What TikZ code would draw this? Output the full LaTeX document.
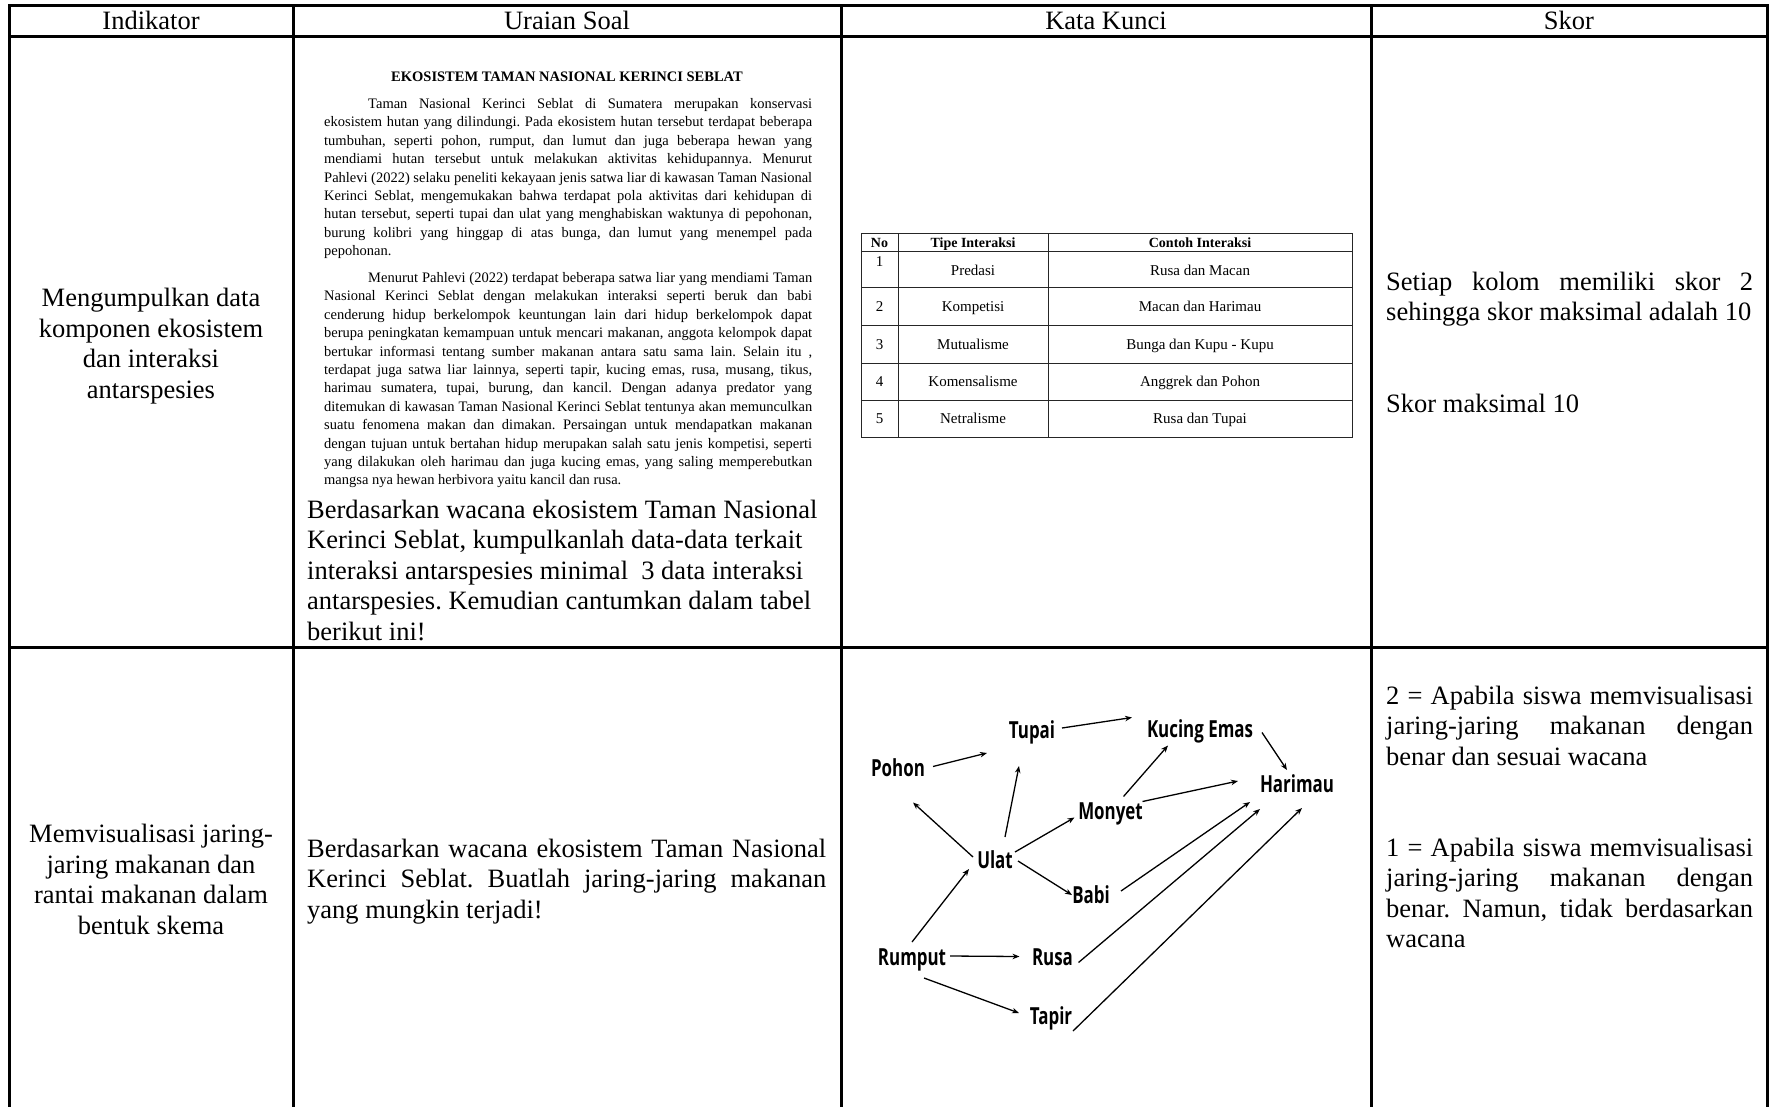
\documentclass[tikz,border=0pt]{standalone}
\usepackage{fontspec}
\setmainfont{Liberation Serif}
\newfontfamily\webfont[FakeStretch=0.72]{Open Sans}
\usetikzlibrary{arrows.meta,calc}
\frenchspacing

\tikzset{
  rule/.style={line width=3pt, line cap=rect},
  thinrule/.style={line width=0.9pt, black!85},
  cell/.style={inner sep=0pt, font=\fontsize{26.5}{30.5}\selectfont},
  small/.style={inner sep=0pt, font=\fontsize{14.5}{18.4}\selectfont},
  tabtext/.style={inner sep=0pt, font=\fontsize{15}{17}\selectfont},
  web/.style={inner sep=0pt, text height=17pt, text depth=0pt, font=\webfont\bfseries\fontsize{23.5}{24}\selectfont},
  feeds/.style={line width=1.3pt, -{Stealth[length=7pt,width=5.5pt]}},
}

\begin{document}
\begin{tikzpicture}[x=1pt,y=-1pt]
\useasboundingbox (0,0) rectangle (1771,1106);

\draw[rule] (9,5) -- (1767,5);
\draw[rule] (9,36) -- (1767,36);
\draw[rule] (9,647) -- (1767,647);
\foreach \xx in {9,293,841,1371,1767}
  \draw[rule] (\xx,5) -- (\xx,1110);

\node[cell, anchor=base] (hind) at (151,29) {Indikator};
\node[cell, anchor=base] (hsoal) at (567,29) {Uraian Soal};
\node[cell, anchor=base] (hkunci) at (1106,29) {Kata Kunci};
\node[cell, anchor=base] (hskor) at (1569,29) {Skor};

\node[cell, align=center, anchor=base] (ind1) at (151,398) {Mengumpulkan data\\komponen ekosistem\\dan interaksi\\antarspesies};
\node[cell, align=center, anchor=base] (ind2) at (151,934) {Memvisualisasi jaring-\\jaring makanan dan\\rantai makanan dalam\\bentuk skema};

\node[small, anchor=base, font=\fontsize{14.5}{18.4}\selectfont\bfseries] (judul) at (567,81) {EKOSISTEM TAMAN NASIONAL KERINCI SEBLAT};
\node[small, text width=488pt, align=justify, anchor=base west] (wacana) at (324,108.5) {%
\tolerance=10000 \hyphenpenalty=10000 \spaceskip=0.25em plus 0.6em minus 0.12em
\hspace*{44pt}Taman Nasional Kerinci Seblat di Sumatera merupakan konservasi\linebreak
ekosistem hutan yang dilindungi. Pada ekosistem hutan tersebut terdapat beberapa\linebreak
tumbuhan, seperti pohon, rumput, dan lumut dan juga beberapa hewan yang\linebreak
mendiami hutan tersebut untuk melakukan aktivitas kehidupannya. Menurut\linebreak
Pahlevi (2022) selaku peneliti kekayaan jenis satwa liar di kawasan Taman Nasional\linebreak
Kerinci Seblat, mengemukakan bahwa terdapat pola aktivitas dari kehidupan di\linebreak
hutan tersebut, seperti tupai dan ulat yang menghabiskan waktunya di pepohonan,\linebreak
burung kolibri yang hinggap di atas bunga, dan lumut yang menempel pada\linebreak
pepohonan.\par\vspace{8.3pt}
\hspace*{44pt}Menurut Pahlevi (2022) terdapat beberapa satwa liar yang mendiami Taman\linebreak
Nasional Kerinci Seblat dengan melakukan interaksi seperti beruk dan babi\linebreak
cenderung hidup berkelompok keuntungan lain dari hidup berkelompok dapat\linebreak
berupa peningkatan kemampuan untuk mencari makanan, anggota kelompok dapat\linebreak
bertukar informasi tentang sumber makanan antara satu sama lain. Selain itu ,\linebreak
terdapat juga satwa liar lainnya, seperti tapir, kucing emas, rusa, musang, tikus,\linebreak
harimau sumatera, tupai, burung, dan kancil. Dengan adanya predator yang\linebreak
ditemukan di kawasan Taman Nasional Kerinci Seblat tentunya akan memunculkan\linebreak
suatu fenomena makan dan dimakan. Persaingan untuk mendapatkan makanan\linebreak
dengan tujuan untuk bertahan hidup merupakan salah satu jenis kompetisi, seperti\linebreak
yang dilakukan oleh harimau dan juga kucing emas, yang saling memperebutkan\linebreak
mangsa nya hewan herbivora yaitu kancil dan rusa.};
\node[cell, align=left, anchor=base west] (soal1) at (307,640) {Berdasarkan wacana ekosistem Taman Nasional\\Kerinci Seblat, kumpulkanlah data-data terkait\\interaksi antarspesies minimal\ \ 3 data interaksi\\antarspesies. Kemudian cantumkan dalam tabel\\berikut ini!};
\node[cell, text width=519pt, align=justify, anchor=base west] (soal2) at (307,857) {Berdasarkan wacana ekosistem Taman Nasional\linebreak Kerinci Seblat. Buatlah jaring-jaring makanan\linebreak yang mungkin terjadi!};

\draw[thinrule] (861,233) rectangle (1352,437);
\foreach \yy in {251,287,325,363,400}
  \draw[thinrule] (861,\yy) -- (1352,\yy);
\foreach \xx in {898,1048}
  \draw[thinrule] (\xx,233) -- (\xx,437);
\node[tabtext, anchor=base, font=\fontsize{14}{16}\selectfont\bfseries] (tno) at (879.5,247) {No};
\node[tabtext, anchor=base, font=\fontsize{14}{16}\selectfont\bfseries] (ttipe) at (973,247) {Tipe Interaksi};
\node[tabtext, anchor=base, font=\fontsize{14}{16}\selectfont\bfseries] (tcontoh) at (1200,247) {Contoh Interaksi};
\node[tabtext, anchor=base] (n1) at (879.5,266) {1};
\node[tabtext, anchor=base] (t1) at (973,275) {Predasi};
\node[tabtext, anchor=base] (c1) at (1200,275) {Rusa dan Macan};
\node[tabtext, anchor=base] (n2) at (879.5,311) {2};
\node[tabtext, anchor=base] (t2) at (973,311) {Kompetisi};
\node[tabtext, anchor=base] (c2) at (1200,311) {Macan dan Harimau};
\node[tabtext, anchor=base] (n3) at (879.5,349) {3};
\node[tabtext, anchor=base] (t3) at (973,349) {Mutualisme};
\node[tabtext, anchor=base] (c3) at (1200,349) {Bunga dan Kupu - Kupu};
\node[tabtext, anchor=base] (n4) at (879.5,386) {4};
\node[tabtext, anchor=base] (t4) at (973,386) {Komensalisme};
\node[tabtext, anchor=base] (c4) at (1200,386) {Anggrek dan Pohon};
\node[tabtext, anchor=base] (n5) at (879.5,423) {5};
\node[tabtext, anchor=base] (t5) at (973,423) {Netralisme};
\node[tabtext, anchor=base] (c5) at (1200,423) {Rusa dan Tupai};

\node[web] (pohon) at (898,767.5) {Pohon};
\node[web] (tupai) at (1032,730) {Tupai};
\node[web] (kucing) at (1200,728.5) {Kucing Emas};
\node[web] (harimau) at (1297,784) {Harimau};
\node[web] (monyet) at (1110.5,810.5) {Monyet};
\node[web] (ulat) at (995,860) {Ulat};
\node[web] (babi) at (1091,895) {Babi};
\node[web] (rumput) at (912,957) {Rumput};
\node[web] (rusa) at (1052.5,956.5) {Rusa};
\node[web] (tapir) at (1051,1016) {Tapir};

\draw[feeds] ($(pohon)+(35,-1)$) -- ($(tupai)+(-45,23)$);
\draw[feeds] ($(tupai)+(30,-2)$) -- ($(kucing)+(-68,-11)$);
\draw[feeds] ($(kucing)+(62,4)$) -- ($(harimau)+(-10,-14)$);
\draw[feeds] ($(monyet)+(13,-14)$) -- ($(kucing)+(-32,17)$);
\draw[feeds] ($(monyet)+(32,-9)$) -- ($(harimau)+(-59,-3)$);
\draw[feeds] ($(ulat)+(-22,-3)$) -- ($(pohon)+(15,35)$);
\draw[feeds] ($(ulat)+(10,-23)$) -- ($(tupai)+(-13,36)$);
\draw[feeds] ($(ulat)+(20,-8)$) -- ($(monyet)+(-36,7)$);
\draw[feeds] ($(ulat)+(23,1)$) -- ($(babi)+(-19,0)$);
\draw[feeds] ($(rumput)+(0,-15)$) -- ($(ulat)+(-26,9)$);
\draw[feeds] ($(babi)+(30,-4)$) -- ($(harimau)+(-47,18)$);
\draw[feeds] ($(rusa)+(26,6)$) -- ($(harimau)+(-37,25)$);
\draw[feeds] ($(tapir)+(22,15)$) -- ($(harimau)+(5,24)$);
\draw[feeds] ($(rumput)+(38,-1)$) -- ($(rusa)+(-33,0)$);
\draw[feeds] ($(rumput)+(12,21)$) -- ($(tapir)+(-32,-3)$);

\node[cell, text width=367pt, align=justify, anchor=base west] (skor1) at (1386,290) {Setiap kolom memiliki skor 2\linebreak sehingga skor maksimal adalah 10};
\node[cell, anchor=base west] (skor2) at (1386,412) {Skor maksimal 10};
\node[cell, text width=367pt, align=justify, anchor=base west] (skor3) at (1386,704) {2 = Apabila siswa memvisualisasi\linebreak jaring-jaring makanan dengan\linebreak benar dan sesuai wacana};
\node[cell, text width=367pt, align=justify, anchor=base west] (skor4) at (1386,856) {1 = Apabila siswa memvisualisasi\linebreak jaring-jaring makanan dengan\linebreak benar. Namun, tidak berdasarkan\linebreak wacana};

\end{tikzpicture}
\end{document}
